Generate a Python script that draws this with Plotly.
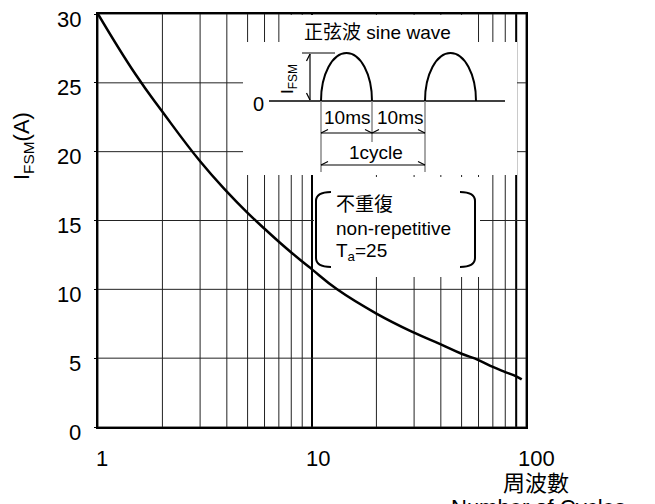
import math
import plotly.graph_objects as go

# ---- data ----
cycles = [1, 1.5, 2, 3, 4, 5, 6, 7, 8, 9, 10, 13.1, 20, 30, 40, 50, 60, 70, 80, 90, 95.5]
ifsm = [30, 25.6, 22.9, 19.3, 17.1, 15.56, 14.4, 13.46, 12.68, 12.02, 11.45, 10.0,
        8.24, 6.85, 6.0, 5.32, 4.86, 4.36, 3.99, 3.68, 3.46]
x_tick_vals = [1, 10, 100]
x_tick_text = ["1", "10", "100"]
x_minor_vals = [2, 3, 4, 5, 6, 7, 8, 9, 20, 30, 40, 50, 60, 70, 80, 90]
x_thick_vals = [10, 90]
y_tick_vals = [0, 5, 10, 15, 20, 25, 30]
y_tick_text = ["0", "5", "10", "15", "20", "25", "30"]

W, H = 655, 504
OFF = 8                      # page body margin of the rendered html
PL, PT, PWID, PHGT = 98, 14, 428, 413   # plot box in screen pixels
L, T = PL - OFF, PT - OFF
R, B = W - L - PWID, H - T - PHGT
FONT = "Liberation Sans, Arial, Noto Sans CJK TC, sans-serif"


def px(x):
    return (x - PL) / PWID


def py(y):
    return (PT + PHGT - y) / PHGT


fig = go.Figure()
fig.add_trace(go.Scatter(x=cycles, y=ifsm, mode="lines",
                         line=dict(color="black", width=2.5, shape="spline", smoothing=1.3),
                         hoverinfo="skip", showlegend=False))

shapes = []
annotations = []

# grid lines (drawn as shapes so the white panels can sit on top of them)
for v in x_minor_vals + x_tick_vals:
    shapes.append(dict(type="line", xref="x", yref="paper", x0=v, x1=v,
                       y0=0, y1=1, line=dict(color="#222", width=1), layer="below"))
for v in x_thick_vals:
    shapes.append(dict(type="line", xref="x", yref="paper", x0=v, x1=v,
                       y0=0, y1=1, line=dict(color="black", width=2), layer="below"))
for v in y_tick_vals:
    shapes.append(dict(type="line", xref="paper", yref="y", x0=0, x1=1, y0=v, y1=v,
                       line=dict(color="#222", width=1), layer="below"))


def line(x0, y0, x1, y1, w=1.5, color="black", layer="above"):
    shapes.append(dict(type="line", xref="paper", yref="paper",
                       x0=px(x0), y0=py(y0), x1=px(x1), y1=py(y1),
                       line=dict(color=color, width=w), layer=layer))


def path(pts, w=1.5, color="black", layer="above"):
    d = ""
    for cmd, coords in pts:
        d += cmd + " " + " ".join(f"{px(a):.5f},{py(b):.5f}" for a, b in coords) + " "
    shapes.append(dict(type="path", xref="paper", yref="paper", path=d.strip(),
                       line=dict(color=color, width=w), layer=layer))


def wrect(x0, y0, x1, y1):
    shapes.append(dict(type="rect", xref="paper", yref="paper",
                       x0=px(x0), y0=py(y1), x1=px(x1), y1=py(y0),
                       fillcolor="white", line=dict(width=0), layer="below"))


def text(s, x, y, size=19, xanchor="center", angle=0):
    annotations.append(dict(text=s, xref="paper", yref="paper", x=px(x), y=py(y),
                            xanchor=xanchor, yanchor="middle", showarrow=False,
                            textangle=angle, font=dict(family=FONT, size=size, color="black")))


def harrow(x0, x1, y, w=1.2):
    line(x0, y, x1, y, w)
    path([("M", [(x0 + 7, y - 3.5)]), ("L", [(x0, y), (x0 + 7, y + 3.5)])], w)
    path([("M", [(x1 - 7, y - 3.5)]), ("L", [(x1, y), (x1 - 7, y + 3.5)])], w)


def varrow(x, y0, y1, w=1.2):
    line(x, y0, x, y1, w)
    path([("M", [(x - 3.5, y0 + 7)]), ("L", [(x, y0), (x + 3.5, y0 + 7)])], w)
    path([("M", [(x - 3.5, y1 - 7)]), ("L", [(x, y1), (x + 3.5, y1 - 7)])], w)


def hump(x0, x1, base, peak, w=2):
    cx, rx, ry = (x0 + x1) / 2, (x1 - x0) / 2, base - peak
    k = 0.5523
    path([("M", [(x0, base)]),
          ("C", [(x0, base - k * ry), (cx - k * rx, peak), (cx, peak)]),
          ("C", [(cx + k * rx, peak), (x1, base - k * ry), (x1, base)])], w)


# white panels behind the inset texts (above the grid, below the curve)
wrect(243, 42, 517, 175)
wrect(289, 15, 470, 42)
wrect(314, 177, 480, 277)

# sine-wave inset
text("正弦波 sine wave", 377, 32)
line(269, 101, 505, 101, 1.5)
hump(321, 372, 101, 53)
hump(425, 476, 101, 53)
text("0", 258, 104, 20)
line(302, 53, 335, 53, 1)
varrow(310, 54, 100)
text("I<sub>FSM</sub>", 289, 79, 17, angle=-90)
line(321, 101, 321, 172, 1.5, "#888")
line(372, 101, 372, 142, 1.5, "#888")
line(425, 101, 425, 172, 1.5, "#888")
text("10ms", 347, 118)
text("10ms", 400, 118)
harrow(321, 372, 133)
harrow(372, 425, 133)
text("1cycle", 376, 153)
harrow(321, 425, 165)

# non-repetitive box
path([("M", [(331, 192)]), ("Q", [(316, 192), (316, 201)]), ("L", [(316, 258)]),
      ("Q", [(316, 267), (331, 267)])], 2)
path([("M", [(460, 192)]), ("Q", [(475, 192), (475, 201)]), ("L", [(475, 258)]),
      ("Q", [(475, 267), (460, 267)])], 2)
text("不重復", 334, 204, xanchor="left")
text("non-repetitive", 334, 228, xanchor="left")
text("T<sub>a</sub>=25", 334, 252, xanchor="left")

# tick labels
for v, s, sh in zip(x_tick_vals, x_tick_text, [4, 6, 10]):
    annotations.append(dict(text=s, xref="x", yref="paper", x=math.log10(v),
                            y=py(459), xanchor="center", yanchor="middle", xshift=sh,
                            showarrow=False, font=dict(family=FONT, size=22, color="black")))
for v, s in zip(y_tick_vals, y_tick_text):
    annotations.append(dict(text=s, xref="paper", yref="y", x=px(83), y=v,
                            xanchor="right", yanchor="middle", yshift=-5,
                            showarrow=False, font=dict(family=FONT, size=22, color="black")))

# axis titles
text("周波數", 536, 483, 22)
text("Number of Cycles", 538, 507, 22)
text("I<sub>FSM</sub>(A)", 23, 146, 22, angle=-90)

fig.update_layout(
    width=W, height=H, margin=dict(l=L, r=R, t=T, b=B, autoexpand=False),
    paper_bgcolor="white", plot_bgcolor="white",
    shapes=shapes, annotations=annotations, showlegend=False,
    font=dict(family=FONT, size=22, color="black"),
)
fig.update_xaxes(type="log", range=[0, 2], showticklabels=False, showgrid=False, ticks="",
                 showline=True, linecolor="black", linewidth=2, mirror=True, zeroline=False)
fig.update_yaxes(range=[0, 30], tickvals=y_tick_vals, showticklabels=False, showgrid=False,
                 ticks="outside", ticklen=2, tickcolor="black",
                 showline=True, linecolor="black", linewidth=2, mirror=True, zeroline=False)

fig.write_html("out.html")
